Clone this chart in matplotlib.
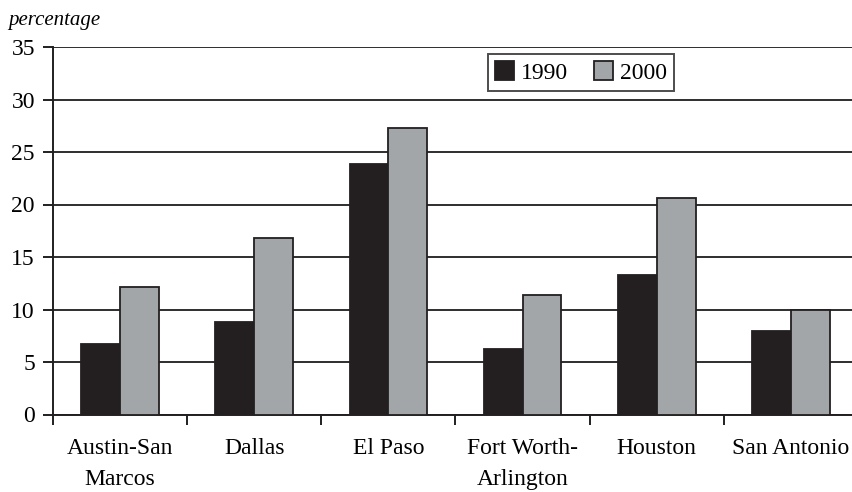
import matplotlib.pyplot as plt
import numpy as np

# data
cities = ['Austin-San\nMarcos', 'Dallas', 'El Paso', 'Fort Worth-\nArlington', 'Houston', 'San Antonio']
y1990 = [6.7, 8.8, 23.9, 6.2, 13.3, 8.0]
y2000 = [12.1, 16.8, 27.3, 11.4, 20.6, 10.0]
yticks = [0, 5, 10, 15, 20, 25, 30, 35]

plt.rcParams['font.family'] = ['Liberation Serif', 'DejaVu Serif']

fig = plt.figure(figsize=(8.53, 4.92), dpi=100)
ax = fig.add_axes([53/853, 1 - 414.5/492, 805/853, 367.5/492])

x = np.arange(len(cities))
w = 0.29
dark = '#231f20'
ax.bar(x - w/2, y1990, w, color=dark, edgecolor=dark, linewidth=1.3, label='1990', zorder=3)
ax.bar(x + w/2, y2000, w, color='#a3a6a8', edgecolor=dark, linewidth=1.3, label='2000', zorder=3)

ax.set_xlim(-0.5, len(cities) - 0.5)
ax.set_ylim(0, 35)
ax.set_yticks(yticks)
ax.yaxis.grid(True, color='#2e2e2e', linewidth=1.4, zorder=0)
ax.set_axisbelow(True)

ax.set_xticks(x)
ax.set_xticklabels(cities, fontsize=17, linespacing=1.6)
ax.set_xticks(np.arange(-0.5, len(cities)), minor=True)
ax.tick_params(axis='x', which='major', length=0, pad=17)
ax.tick_params(axis='x', which='minor', length=7, width=1.4, color=dark, direction='out')
ax.tick_params(axis='y', length=7, width=1.4, color=dark, pad=6, labelsize=17)

for s in ['top', 'right']:
    ax.spines[s].set_visible(False)
for s in ['left', 'bottom']:
    ax.spines[s].set_color(dark)
    ax.spines[s].set_linewidth(1.4)

fig.text(8/853, 1 - 25/492, 'percentage', fontsize=15, style='italic')

leg = ax.legend(loc='upper left', bbox_to_anchor=(0.54, 0.98), ncol=2, fontsize=17,
                frameon=True, fancybox=False, edgecolor=dark, handlelength=0.8,
                handleheight=0.85, handletextpad=0.3, columnspacing=1.1,
                borderpad=0.3, borderaxespad=0)
leg.get_frame().set_linewidth(1.4)

fig.savefig('out.png', dpi=100)
